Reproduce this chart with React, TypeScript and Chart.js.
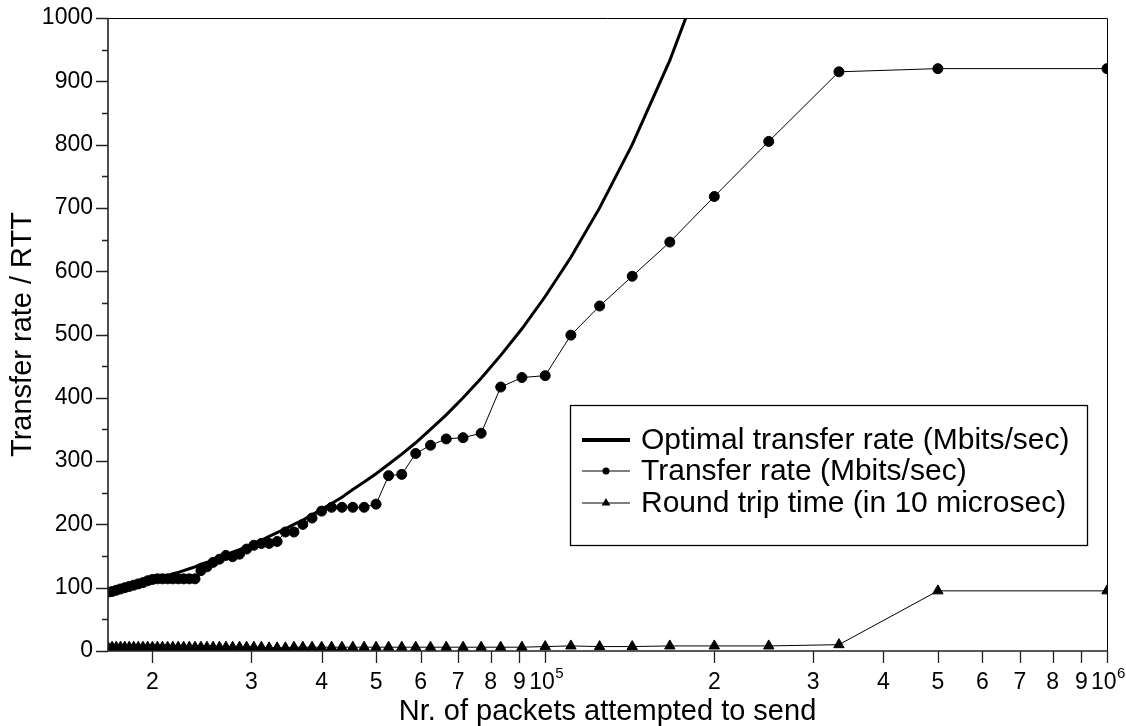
import React, { useEffect, useRef } from 'react';
import { Chart, registerables } from 'chart.js';

Chart.register(...registerables);

// Number of packets attempted to send (x), smallest to largest
const xPackets = [
  16667, 16949, 17241, 17544, 17857, 18182, 18519, 18868, 19231, 19608,
  20000, 20408, 20833, 21277, 21739, 22222, 22727, 23256, 23810, 24390,
  25000, 25641, 26316, 27027, 27778, 28571, 29412, 30303, 31250, 32258,
  33333, 34483, 35714, 37037, 38462, 40000, 41667, 43478, 45455, 47619,
  50000, 52632, 55556, 58824, 62500, 66667, 71429, 76923, 83333, 90909,
  100000, 111111, 125000, 142857, 166667, 200000, 250000, 333333, 500000, 1000000,
];

const optimalRate = [
  93, 95, 97, 98, 100, 102, 104, 106, 108, 110,
  112, 114, 117, 119, 122, 124, 127, 130, 133, 137,
  140, 144, 147, 151, 156, 160, 165, 170, 175, 181,
  187, 193, 200, 207, 215, 224, 233, 243, 255, 267,
  280, 295, 311, 329, 350, 373, 400, 431, 467, 509,
  560, 622, 700, 800, 933, 1120,
];

const transferRate = [
  93, 94, 96, 98, 100, 102, 104, 106, 108, 111,
  113, 114, 114, 114, 114, 114, 114, 114, 114, 127,
  133, 140, 145, 151, 149, 153, 161, 167, 170, 170,
  173, 188, 188, 200, 210, 221, 227, 227, 227, 227,
  232, 277, 279, 312, 325, 335, 337, 344, 417, 432,
  435, 499, 545, 592, 646, 718, 805, 915, 920, 920,
];

const roundTripTime = [
  6, 6, 6, 6, 6, 6, 6, 6, 6, 6,
  6, 6, 6, 6, 6, 6, 6, 6, 6, 6,
  6, 6, 6, 6, 6, 6, 6, 6, 6, 5,
  5, 5, 6, 6, 6, 6, 6, 6, 6, 6,
  6, 6, 6, 6, 6, 6, 6, 6, 6, 6,
  7, 8, 7, 7, 8, 8, 8, 10, 95, 95,
];

const xTickValues = [
  20000, 30000, 40000, 50000, 60000, 70000, 80000, 90000, 100000,
  200000, 300000, 400000, 500000, 600000, 700000, 800000, 900000, 1000000,
];
// decade labels are written as base + exponent (10^5, 10^6)
const xTickLabels = [
  '2', '3', '4', '5', '6', '7', '8', '9', '10^5',
  '2', '3', '4', '5', '6', '7', '8', '9', '10^6',
];

const seriesLabels = [
  'Optimal transfer rate (Mbits/sec)',
  'Transfer rate (Mbits/sec)',
  'Round trip time (in 10 microsec)',
];
const xAxisTitle = 'Nr. of packets attempted to send';
const yAxisTitle = 'Transfer rate / RTT';

const FONT = '"Liberation Sans", Arial, Helvetica, sans-serif';

const framePlugin = {
  id: 'frameTicks',
  afterDatasetsDraw(chart: any) {
    const { ctx, chartArea, scales } = chart;
    const { left, right, top, bottom } = chartArea;
    const x = scales.x;
    const y = scales.y;
    ctx.save();
    ctx.strokeStyle = '#000';
    ctx.lineWidth = 1;
    ctx.beginPath();
    ctx.moveTo(left, top + 0.5);
    ctx.lineTo(right + 0.5, top + 0.5);
    ctx.lineTo(right + 0.5, bottom);
    ctx.stroke();

    ctx.strokeStyle = '#222';
    ctx.lineWidth = 1.6;
    ctx.beginPath();
    ctx.moveTo(left, top);
    ctx.lineTo(left, bottom);
    ctx.lineTo(right + 1, bottom);
    ctx.stroke();

    ctx.lineWidth = 1.3;
    const yt = y.ticks.map((t: any) => t.value);
    ctx.beginPath();
    yt.forEach((v: number, i: number) => {
      const py = Math.round(y.getPixelForValue(v)) + 0.5;
      ctx.moveTo(left, py);
      ctx.lineTo(left - 12, py);
      if (i < yt.length - 1) {
        const pm = Math.round(y.getPixelForValue((v + yt[i + 1]) / 2)) + 0.5;
        ctx.moveTo(left, pm);
        ctx.lineTo(left - 6, pm);
      }
    });
    xTickValues.forEach((v) => {
      const px = Math.round(x.getPixelForValue(v)) + 0.5;
      ctx.moveTo(px, bottom);
      ctx.lineTo(px, bottom + 12);
    });
    ctx.stroke();

    // decade labels with raised exponent
    ctx.fillStyle = '#000';
    ctx.textBaseline = 'middle';
    ctx.textAlign = 'left';
    xTickLabels.forEach((lab, i) => {
      if (lab.indexOf('^') < 0) return;
      const [base, exp] = lab.split('^');
      const px = x.getPixelForValue(xTickValues[i]);
      ctx.font = `23px ${FONT}`;
      const wb = ctx.measureText(base).width;
      ctx.font = `15px ${FONT}`;
      const we = ctx.measureText(exp).width;
      const x0 = px - (wb + we) / 2 + 1;
      const cy = bottom + 18 + 13.8;
      ctx.font = `23px ${FONT}`;
      ctx.fillText(base, x0, cy);
      ctx.font = `15px ${FONT}`;
      ctx.fillText(exp, x0 + wb + 0.5, cy - 9);
    });
    ctx.restore();
  },
};

const legendPlugin = {
  id: 'boxLegend',
  afterDraw(chart: any) {
    const { ctx } = chart;
    const boxL = 570, boxT = 405, boxR = 1087, boxB = 545;
    const rows = [440, 471, 503];
    const sx0 = 582, sx1 = 630, tx = 641;
    ctx.save();
    ctx.fillStyle = '#fff';
    ctx.fillRect(boxL, boxT, boxR - boxL, boxB - boxT);
    ctx.strokeStyle = '#000';
    ctx.lineWidth = 1.3;
    ctx.strokeRect(boxL + 0.5, boxT + 0.5, boxR - boxL, boxB - boxT);

    chart.data.datasets.forEach((ds: any, i: number) => {
      const ry = rows[i];
      ctx.strokeStyle = '#000';
      ctx.lineWidth = i === 0 ? 4 : 1;
      ctx.beginPath();
      ctx.moveTo(sx0, ry);
      ctx.lineTo(sx1, ry);
      ctx.stroke();
      const cx = (sx0 + sx1) / 2;
      ctx.fillStyle = '#000';
      if (i === 1) {
        ctx.beginPath();
        ctx.arc(cx, ry, 3.5, 0, Math.PI * 2);
        ctx.fill();
      } else if (i === 2) {
        const r = 5;
        ctx.beginPath();
        ctx.moveTo(cx, ry - r);
        ctx.lineTo(cx + r * 0.866, ry + r / 2);
        ctx.lineTo(cx - r * 0.866, ry + r / 2);
        ctx.closePath();
        ctx.fill();
      }
      ctx.fillStyle = '#000';
      ctx.font = `30px ${FONT}`;
      ctx.textBaseline = 'middle';
      ctx.textAlign = 'left';
      ctx.fillText(ds.label, tx, ry + 1);
    });
    ctx.restore();
  },
};

const zeroPadding = (s: any) => {
  s.paddingLeft = 0;
  s.paddingRight = 0;
  s.paddingTop = 0;
  s.paddingBottom = 0;
};

export default function App() {
  const canvasRef = useRef<HTMLCanvasElement | null>(null);

  useEffect(() => {
    if (!canvasRef.current) return;
    const toPoints = (ys: number[]) => ys.map((v, i) => ({ x: xPackets[i], y: v }));

    const chart = new Chart(canvasRef.current, {
      type: 'line',
      data: {
        datasets: [
          {
            label: seriesLabels[0],
            data: toPoints(optimalRate),
            borderColor: '#000',
            borderWidth: 3,
            pointRadius: 0,
            tension: 0,
            clip: 0,
            order: 2,
          },
          {
            label: seriesLabels[1],
            data: toPoints(transferRate),
            borderColor: '#000',
            borderWidth: 1,
            pointRadius: 5,
            pointBorderWidth: 1,
            pointBackgroundColor: '#000',
            pointBorderColor: '#000',
            pointStyle: 'circle',
            order: 0,
          },
          {
            label: seriesLabels[2],
            data: toPoints(roundTripTime),
            borderColor: '#000',
            borderWidth: 1,
            pointRadius: 6,
            pointBorderWidth: 1,
            pointBackgroundColor: '#000',
            pointBorderColor: '#000',
            pointStyle: 'triangle',
            order: 1,
          },
        ],
      },
      options: {
        responsive: false,
        animation: false,
        devicePixelRatio: 1,
        layout: { padding: { top: 18, right: 19, left: 0, bottom: 0 } },
        plugins: {
          legend: { display: false },
          tooltip: { enabled: false },
        },
        scales: {
          x: {
            type: 'logarithmic',
            min: xPackets[0],
            max: 1000000,
            grid: { display: false, drawTicks: false },
            border: { display: false },
            ticks: {
              autoSkip: false,
              maxRotation: 0,
              minRotation: 0,
              padding: 18,
              color: '#000',
              font: { size: 23, family: FONT },
              callback: (_v: any, i: number) =>
                xTickLabels[i].indexOf('^') < 0 ? xTickLabels[i] : '',
            },
            afterBuildTicks: (s: any) => {
              s.ticks = xTickValues.map((v) => ({ value: v }));
            },
            afterFit: (s: any) => {
              s.height = 75;
              zeroPadding(s);
            },
            title: {
              display: true,
              text: xAxisTitle,
              color: '#000',
              font: { size: 29, family: FONT, lineHeight: 1 },
              padding: { top: 0, bottom: 0 },
            },
          },
          y: {
            type: 'linear',
            min: 0,
            max: 1000,
            grid: { display: false, drawTicks: false },
            border: { display: false },
            ticks: {
              stepSize: 100,
              padding: 15,
              color: '#000',
              font: { size: 23, family: FONT },
              callback: (v: any) => String(v),
            },
            afterFit: (s: any) => {
              s.width = 108;
              zeroPadding(s);
            },
            title: {
              display: true,
              text: yAxisTitle,
              color: '#000',
              font: { size: 29, family: FONT, lineHeight: 1 },
              padding: { top: 8, bottom: 0 },
            },
          },
        },
      } as any,
      plugins: [framePlugin, legendPlugin],
    });
    return () => chart.destroy();
  }, []);

  return (
    <div style={{ position: 'fixed', left: 0, top: 0, width: 1126, height: 726, background: '#fff' }}>
      <canvas ref={canvasRef} width={1126} height={726} style={{ width: 1126, height: 726 }} />
    </div>
  );
}
